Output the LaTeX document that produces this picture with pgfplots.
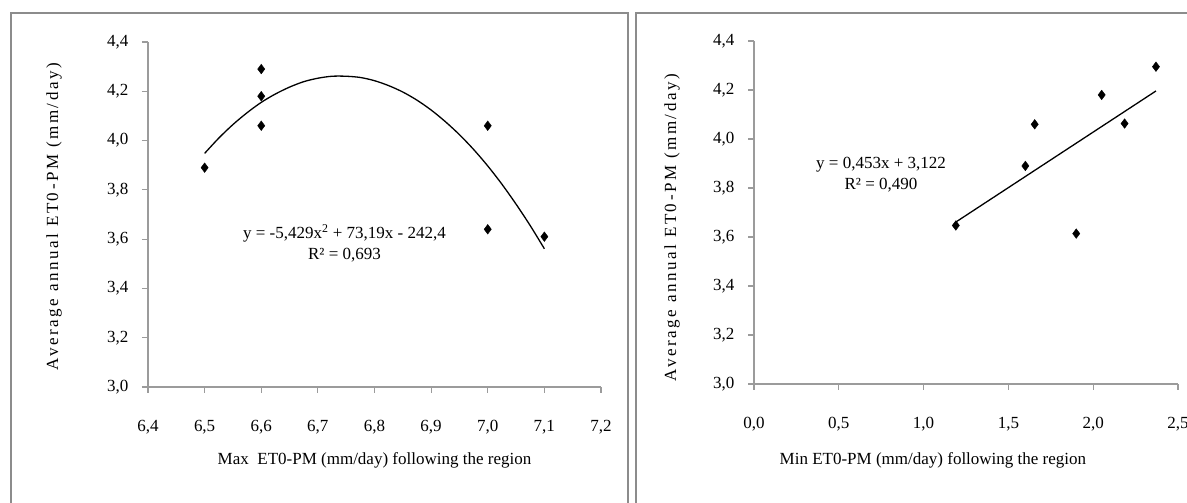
\documentclass[border=0pt]{standalone}
\usepackage{fontspec}
\setmainfont{Liberation Serif}
\newfontfamily\spacedfont[LetterSpace=15]{Liberation Serif}
\usepackage{pgfplots}
\pgfplotsset{compat=1.18}
\definecolor{axgray}{RGB}{155,155,155}
\definecolor{framegray}{RGB}{140,140,140}
\pgfplotstableread{
x y
6.5 3.89
6.6 4.29
6.6 4.18
6.6 4.06
7.0 4.06
7.0 3.64
7.1 3.61
}\maxdata
\pgfplotstableread{
x y
1.19 3.647
1.60 3.89
1.655 4.06
1.90 3.614
2.05 4.18
2.185 4.063
2.37 4.295
}\mindata
\pgfplotstableread{
x y
6.500 3.948
6.525 4.010
6.550 4.065
6.575 4.113
6.600 4.155
6.625 4.189
6.650 4.217
6.675 4.239
6.700 4.253
6.725 4.261
6.750 4.261
6.775 4.256
6.800 4.243
6.825 4.223
6.850 4.197
6.875 4.164
6.900 4.124
6.925 4.077
6.950 4.024
6.975 3.964
7.000 3.897
7.025 3.823
7.050 3.742
7.075 3.655
7.100 3.561
}\maxfit
\pgfplotstableread{
x y
1.19 3.661
2.37 4.196
}\minfit
\pgfplotsset{
  mystyle/.style={
    scale only axis,
    axis x line*=bottom, axis y line*=left,
    axis line style={color=axgray, line width=1.2pt},
    tick style={color=axgray, line width=1.2pt},
    tick align=outside, major tick length=6pt,
    ymin=3, ymax=4.4, ytick={3,3.2,3.4,3.6,3.8,4,4.2,4.4},
    /pgf/number format/.cd, use comma, fixed, fixed zerofill, precision=1, assume math mode=true,
    /pgfplots/.cd,
    every tick label/.append style={font=\fontsize{17}{20}\selectfont, text=black},
    xticklabel style={yshift=-24pt},
    yticklabel style={xshift=-10pt},
    clip=false,
  },
}
\begin{document}
\begin{tikzpicture}[font=\fontsize{17}{21}\selectfont]
\path[use as bounding box] (0,0) rectangle (1187pt,503pt);
\draw[color=framegray, line width=1.5pt] (11pt,0) -- (11pt,490pt) -- (628pt,490pt) -- (628pt,0);
\draw[color=framegray, line width=1.5pt] (636pt,0) -- (636pt,490pt) -- (1190pt,490pt);
\begin{axis}[mystyle, at={(148pt,116pt)}, anchor=south west,
  width=453pt, height=345pt,
  xmin=6.4, xmax=7.2, xtick={6.4,6.5,6.6,6.7,6.8,6.9,7.0,7.1,7.2},
  xlabel={Max\ \ ET0-PM (mm/day) following the region},
  xlabel style={at={(axis description cs:0.5,-0.214)}, anchor=center},
  ylabel={\spacedfont Average annual ET0-PM (mm/day)},
  ylabel style={at={(axis description cs:-0.2075,0.494)}, anchor=center},
]
\addplot[black, line width=1.3pt, smooth] table {\maxfit};
\addplot[only marks, mark=diamond*, mark size=4.8pt, black] table {\maxdata};
\node[align=center] at (axis cs:6.747,3.584) {y = -5,429x\textsuperscript{2} + 73,19x - 242,4\\R² = 0,693};
\end{axis}
\begin{axis}[mystyle, at={(754pt,119pt)}, anchor=south west,
  width=424pt, height=343pt,
  xmin=0, xmax=2.5, xtick={0,0.5,1,1.5,2,2.5},
  xlabel={Min ET0-PM (mm/day) following the region},
  xlabel style={at={(axis description cs:0.422,-0.224)}, anchor=center},
  ylabel={\spacedfont Average annual ET0-PM (mm/day)},
  ylabel style={at={(axis description cs:-0.193,0.456)}, anchor=center},
]
\addplot[black, line width=1.3pt] table {\minfit};
\addplot[only marks, mark=diamond*, mark size=4.8pt, black] table {\mindata};
\node[align=center] at (axis cs:0.749,3.853) {y = 0,453x + 3,122\\R² = 0,490};
\end{axis}
\end{tikzpicture}
\end{document}
